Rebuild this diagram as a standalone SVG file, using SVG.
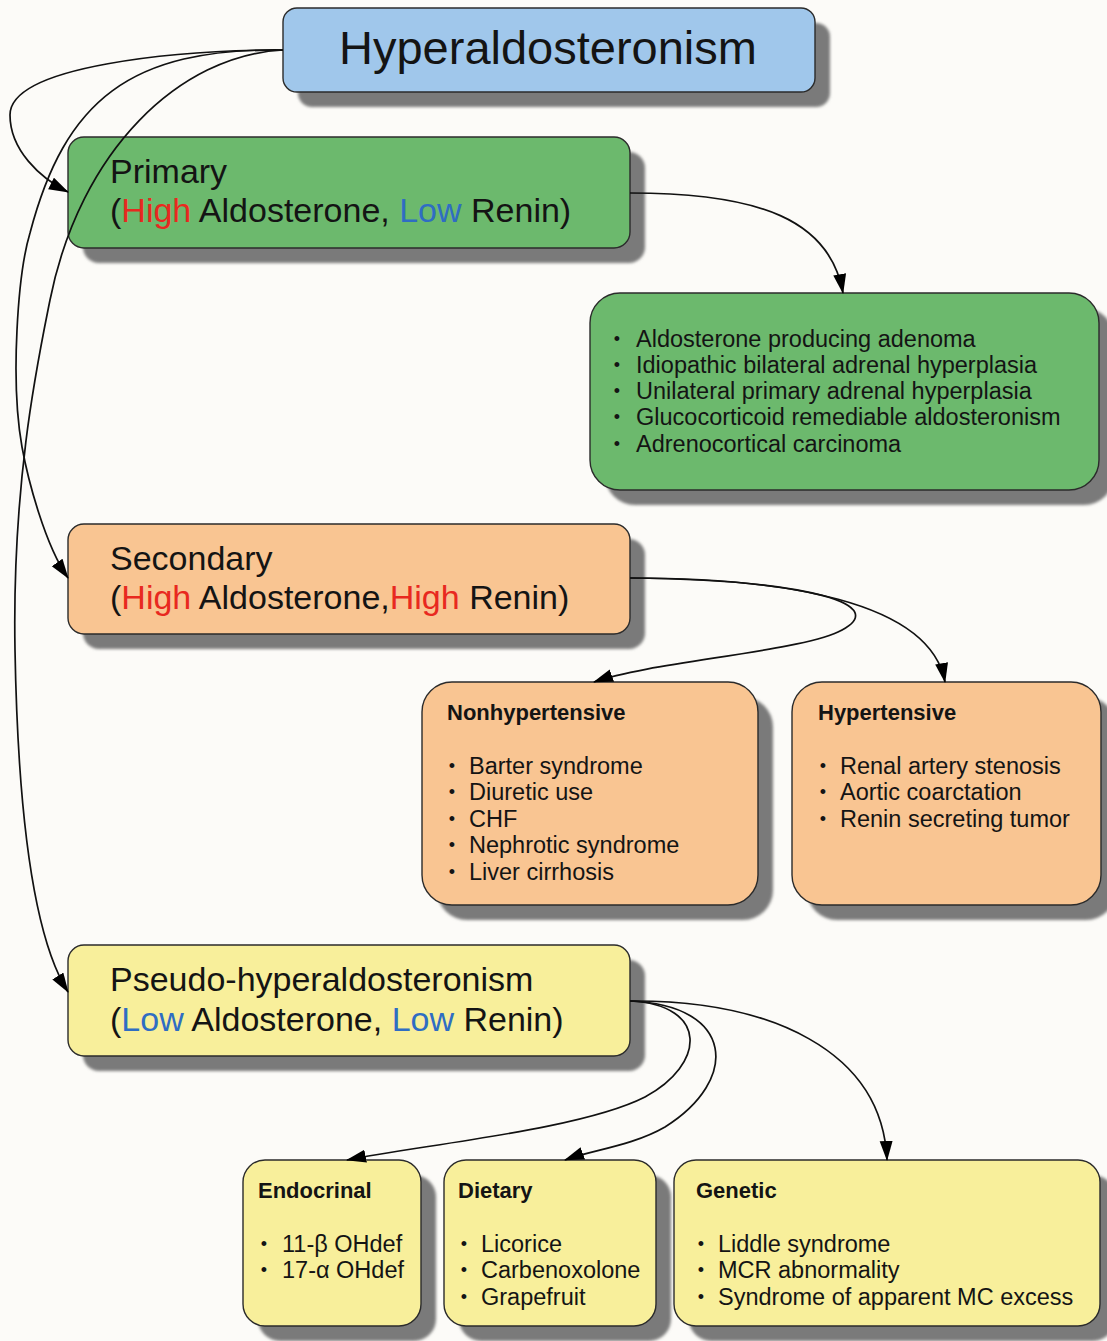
<svg xmlns="http://www.w3.org/2000/svg" width="1107" height="1341" viewBox="0 0 1107 1341">
<style>
.sh{fill:#7a7a7a;filter:url(#blur)}
.bx{stroke:#2b2b2b;stroke-width:1.4}
.blue{fill:#a0c7eb}
.green{fill:#6cb96d}
.orange{fill:#f9c592}
.yellow{fill:#f8ef9b}
text{font-family:"Liberation Sans",Arial,sans-serif;fill:#141414}
.big{font-size:47px}
.head{font-size:34px}
.item{font-size:23.5px}
.title{font-size:22px;font-weight:bold}
.bul{font-size:18px;text-anchor:middle}
.hi{fill:#e8291f}
.lo{fill:#2f6dc3}
.cn{fill:none;stroke:#111;stroke-width:1.7;marker-end:url(#arr)}
</style>
<defs>
<filter id="blur" x="-10%" y="-10%" width="120%" height="120%"><feGaussianBlur stdDeviation="1.6"/></filter>
<marker id="arr" markerWidth="22" markerHeight="14" refX="19" refY="6.5" orient="auto" markerUnits="userSpaceOnUse"><path d="M0,0 L20,6.5 L0,13 z" fill="#000"/></marker>
</defs>
<rect width="1107" height="1341" fill="#fcfbf8"/>

<g id="n-hyper">
<rect class="sh" x="298" y="23" width="532" height="84" rx="14"/>
<rect class="bx blue" x="283" y="8" width="532" height="84" rx="14"/>
<text class="big" x="548" y="64" text-anchor="middle">Hyperaldosteronism</text>
</g>

<g id="n-primary">
<rect class="sh" x="83" y="152" width="562" height="111" rx="16"/>
<rect class="bx green" x="68" y="137" width="562" height="111" rx="16"/>
<text class="head" x="110" y="183">Primary</text>
<text class="head" x="110" y="222">(<tspan class="hi">High</tspan> Aldosterone, <tspan class="lo">Low</tspan> Renin)</text>
</g>

<g id="n-primary-list">
<rect class="sh" x="605" y="308" width="509" height="197" rx="30"/>
<rect class="bx green" x="590" y="293" width="509" height="197" rx="30"/>
<text class="bul" x="617" y="345">•</text><text class="item" x="636" y="347">Aldosterone producing adenoma</text>
<text class="bul" x="617" y="371">•</text><text class="item" x="636" y="373">Idiopathic bilateral adrenal hyperplasia</text>
<text class="bul" x="617" y="397">•</text><text class="item" x="636" y="399">Unilateral primary adrenal hyperplasia</text>
<text class="bul" x="617" y="423">•</text><text class="item" x="636" y="425">Glucocorticoid remediable aldosteronism</text>
<text class="bul" x="617" y="450">•</text><text class="item" x="636" y="452">Adrenocortical carcinoma</text>
</g>

<g id="n-secondary">
<rect class="sh" x="83" y="539" width="562" height="110" rx="16"/>
<rect class="bx orange" x="68" y="524" width="562" height="110" rx="16"/>
<text class="head" x="110" y="570">Secondary</text>
<text class="head" x="110" y="609">(<tspan class="hi">High</tspan> Aldosterone,<tspan class="hi">High</tspan> Renin)</text>
</g>

<g id="n-nonhyp">
<rect class="sh" x="437" y="697" width="336" height="223" rx="30"/>
<rect class="bx orange" x="422" y="682" width="336" height="223" rx="30"/>
<text class="title" x="447" y="720">Nonhypertensive</text>
<text class="bul" x="452" y="772">•</text><text class="item" x="469" y="774">Barter syndrome</text>
<text class="bul" x="452" y="798">•</text><text class="item" x="469" y="800">Diuretic use</text>
<text class="bul" x="452" y="825">•</text><text class="item" x="469" y="827">CHF</text>
<text class="bul" x="452" y="851">•</text><text class="item" x="469" y="853">Nephrotic syndrome</text>
<text class="bul" x="452" y="878">•</text><text class="item" x="469" y="880">Liver cirrhosis</text>
</g>

<g id="n-hyp">
<rect class="sh" x="807" y="697" width="309" height="223" rx="30"/>
<rect class="bx orange" x="792" y="682" width="309" height="223" rx="30"/>
<text class="title" x="818" y="720">Hypertensive</text>
<text class="bul" x="823" y="772">•</text><text class="item" x="840" y="774">Renal artery stenosis</text>
<text class="bul" x="823" y="798">•</text><text class="item" x="840" y="800">Aortic coarctation</text>
<text class="bul" x="823" y="825">•</text><text class="item" x="840" y="827">Renin secreting tumor</text>
</g>

<g id="n-pseudo">
<rect class="sh" x="83" y="960" width="562" height="111" rx="16"/>
<rect class="bx yellow" x="68" y="945" width="562" height="111" rx="16"/>
<text class="head" x="110" y="991">Pseudo-hyperaldosteronism</text>
<text class="head" x="110" y="1031">(<tspan class="lo">Low</tspan> Aldosterone, <tspan class="lo">Low</tspan> Renin)</text>
</g>

<g id="n-endocrinal">
<rect class="sh" x="258" y="1175" width="178" height="166" rx="22"/>
<rect class="bx yellow" x="243" y="1160" width="178" height="166" rx="22"/>
<text class="title" x="258" y="1198">Endocrinal</text>
<text class="bul" x="264" y="1250">•</text><text class="item" x="282" y="1252">11-β OHdef</text>
<text class="bul" x="264" y="1276">•</text><text class="item" x="282" y="1278">17-α OHdef</text>
</g>

<g id="n-dietary">
<rect class="sh" x="459" y="1175" width="212" height="166" rx="22"/>
<rect class="bx yellow" x="444" y="1160" width="212" height="166" rx="22"/>
<text class="title" x="458" y="1198">Dietary</text>
<text class="bul" x="464" y="1250">•</text><text class="item" x="481" y="1252">Licorice</text>
<text class="bul" x="464" y="1276">•</text><text class="item" x="481" y="1278">Carbenoxolone</text>
<text class="bul" x="464" y="1303">•</text><text class="item" x="481" y="1305">Grapefruit</text>
</g>

<g id="n-genetic">
<rect class="sh" x="689" y="1175" width="426" height="166" rx="22"/>
<rect class="bx yellow" x="674" y="1160" width="426" height="166" rx="22"/>
<text class="title" x="696" y="1198">Genetic</text>
<text class="bul" x="701" y="1250">•</text><text class="item" x="718" y="1252">Liddle syndrome</text>
<text class="bul" x="701" y="1276">•</text><text class="item" x="718" y="1278">MCR abnormality</text>
<text class="bul" x="701" y="1303">•</text><text class="item" x="718" y="1305">Syndrome of apparent MC excess</text>
</g>

<g id="connectors">
<path class="cn" d="M283,50 C180,50 10,65 10,115 C10,150 40,178 68,192"/>
<path class="cn" d="M283,50 C130,48 65,100 30,233 C18,273 10,380 22,447 C28,480 45,545 68,578"/>
<path class="cn" d="M283,50 C180,55 80,150 50,300 C38,360 12,480 15,650 C18,820 35,940 68,992"/>
<path class="cn" d="M630,193 C760,193 830,220 843,293"/>
<path class="cn" d="M630,578 C810,580 895,605 838,632 C795,652 650,662 594,682"/>
<path class="cn" d="M630,578 C780,578 930,600 945,682"/>
<path class="cn" d="M630,1001 C710,1005 705,1065 645,1097 C580,1130 420,1145 347,1160"/>
<path class="cn" d="M630,1001 C735,1005 740,1080 665,1127 C632,1146 592,1150 565,1160"/>
<path class="cn" d="M630,1001 C770,1000 882,1050 887,1160"/>
</g>
</svg>
